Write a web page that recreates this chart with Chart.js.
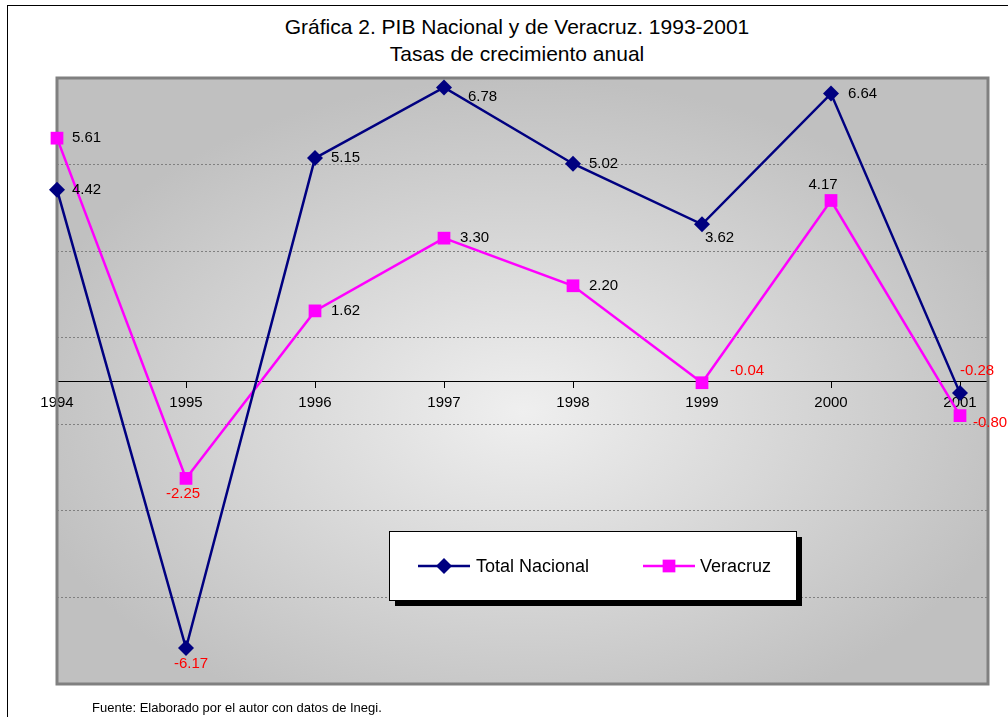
<!DOCTYPE html>
<html>
<head>
<meta charset="utf-8">
<script src="https://cdn.jsdelivr.net/npm/chart.js@4.4.0/dist/chart.umd.min.js"></script>
<style>
html, body { margin: 0; padding: 0; background: #fff; overflow: hidden; }
#wrap { position: relative; width: 1008px; height: 717px; }
#frame { position: absolute; left: 7px; top: 5px; width: 1030px; height: 740px; border: 1px solid #000; }
#title { position: absolute; left: 0; top: 13px; width: 1034px; text-align: center; font: 21px "Liberation Sans", Arial, sans-serif; line-height: 27px; color: #000; }
#source { position: absolute; left: 92px; top: 700px; font: 13px "Liberation Sans", Arial, sans-serif; color: #000; }
#chart { position: absolute; left: 0; top: 0; }
</style>
</head>
<body>
<div id="wrap">
  <div id="frame"></div>
  <div id="title">Gráfica 2. PIB Nacional y de Veracruz. 1993-2001<br>Tasas de crecimiento anual</div>
  <canvas id="chart" width="1008" height="717"></canvas>
  <div id="source">Fuente: Elaborado por el autor con datos de Inegi.</div>
</div>
<script>
const FONT = '"Liberation Sans", Arial, sans-serif';

// Data
const years = [1994, 1995, 1996, 1997, 1998, 1999, 2000, 2001];
const totalNacional = [4.42, -6.17, 5.15, 6.78, 5.02, 3.62, 6.64, -0.28];
const veracruz = [5.61, -2.25, 1.62, 3.30, 2.20, -0.04, 4.17, -0.80];
const yMin = -7;
const yMax = 7;
const yStep = 2;

// Where each value label sits relative to its point: [dx, dy, align]
const totalLabelPos = [[15, 0, 'left'], [5, 16, 'center'], [16, 0, 'left'], [24, 9, 'left'],
    [16, 0, 'left'], [3, 14, 'left'], [17, 0, 'left'], [0, -22, 'left']];
const veracruzLabelPos = [[15, 0, 'left'], [-3, 15, 'center'], [16, 0, 'left'], [16, 0, 'left'],
    [16, 0, 'left'], [28, -12, 'left'], [-8, -16, 'center'], [13, 7, 'left']];

const toPoints = values => years.map((year, i) => ({ x: year, y: values[i] }));

// Gray gradient behind the plot and its border
const plotBackground = {
    id: 'plotBackground',
    beforeDraw(chart) {
        const { ctx, chartArea: a } = chart;
        const w = a.right - a.left;
        const h = a.bottom - a.top;
        const cx = a.left + w * 0.5;
        const cy = a.top + h * 0.55;
        const rx = w * 0.55;
        const ry = h * 0.55;
        ctx.save();
        ctx.fillStyle = '#c0c0c0';
        ctx.fillRect(a.left, a.top, w, h);
        ctx.beginPath();
        ctx.rect(a.left, a.top, w, h);
        ctx.clip();
        ctx.translate(cx, cy);
        ctx.scale(1, ry / rx);
        const g = ctx.createRadialGradient(0, 0, 0, 0, 0, rx);
        g.addColorStop(0, '#efefef');
        g.addColorStop(1, '#c0c0c0');
        ctx.fillStyle = g;
        ctx.fillRect(-rx, -rx, 2 * rx, 2 * rx);
        ctx.restore();
    },
    beforeDatasetsDraw(chart) {
        const { ctx, chartArea: a } = chart;
        ctx.save();
        ctx.strokeStyle = '#808080';
        ctx.lineWidth = 3;
        ctx.strokeRect(a.left, a.top, a.right - a.left, a.bottom - a.top);
        ctx.restore();
    }
};

// Value labels next to each point, negatives in red
const valueLabels = {
    id: 'valueLabels',
    afterDatasetsDraw(chart) {
        const { ctx } = chart;
        const positions = [totalLabelPos, veracruzLabelPos];
        ctx.save();
        ctx.font = '15px ' + FONT;
        ctx.textBaseline = 'middle';
        chart.data.datasets.forEach((ds, di) => {
            const meta = chart.getDatasetMeta(di);
            meta.data.forEach((pt, i) => {
                const v = ds.data[i].y;
                const [dx, dy, align] = positions[di][i];
                ctx.fillStyle = v < 0 ? '#ff0000' : '#000000';
                ctx.textAlign = align;
                ctx.fillText(v.toFixed(2), pt.x + dx, pt.y + dy);
            });
        });
        ctx.restore();
    }
};

function drawMarker(ctx, style, x, y, r) {
    ctx.beginPath();
    if (style === 'rectRot') {
        ctx.moveTo(x - r, y);
        ctx.lineTo(x, y - r);
        ctx.lineTo(x + r, y);
        ctx.lineTo(x, y + r);
        ctx.closePath();
    } else {
        const s = r * Math.SQRT1_2;
        ctx.rect(x - s, y - s, 2 * s, 2 * s);
    }
    ctx.fill();
}

// Boxed legend with drop shadow inside the plot
const boxLegend = {
    id: 'boxLegend',
    afterDraw(chart) {
        const { ctx } = chart;
        const box = { x: 389, y: 531, w: 407, h: 69 };
        const items = [{ x0: 418, x1: 470, tx: 476 }, { x0: 643, x1: 695, tx: 700 }];
        const cy = box.y + 35;
        ctx.save();
        ctx.fillStyle = '#000';
        ctx.fillRect(box.x + 6, box.y + 6, box.w, box.h);
        ctx.fillStyle = '#fff';
        ctx.fillRect(box.x, box.y, box.w, box.h);
        ctx.strokeStyle = '#000';
        ctx.lineWidth = 1;
        ctx.strokeRect(box.x + 0.5, box.y + 0.5, box.w, box.h);
        chart.data.datasets.forEach((ds, i) => {
            const it = items[i];
            ctx.strokeStyle = ds.borderColor;
            ctx.lineWidth = ds.borderWidth;
            ctx.beginPath();
            ctx.moveTo(it.x0, cy);
            ctx.lineTo(it.x1, cy);
            ctx.stroke();
            ctx.fillStyle = ds.backgroundColor;
            drawMarker(ctx, ds.pointStyle, (it.x0 + it.x1) / 2, cy, ds.pointRadius);
            ctx.fillStyle = '#000';
            ctx.font = '18px ' + FONT;
            ctx.textAlign = 'left';
            ctx.textBaseline = 'middle';
            ctx.fillText(ds.label, it.tx, cy + 1);
        });
        ctx.restore();
    }
};

const chart = new Chart(document.getElementById('chart').getContext('2d'), {
    type: 'line',
    data: {
        datasets: [
            {
                label: 'Total Nacional',
                data: toPoints(totalNacional),
                borderColor: '#000080',
                backgroundColor: '#000080',
                borderWidth: 2.5,
                pointStyle: 'rectRot',
                pointRadius: 8,
                pointHoverRadius: 8,
                pointBorderWidth: 0,
                tension: 0,
                clip: false,
            },
            {
                label: 'Veracruz',
                data: toPoints(veracruz),
                borderColor: '#ff00ff',
                backgroundColor: '#ff00ff',
                borderWidth: 2.5,
                pointStyle: 'rect',
                pointRadius: 9,
                pointHoverRadius: 9,
                pointBorderWidth: 0,
                tension: 0,
                clip: false,
            },
        ],
    },
    options: {
        responsive: false,
        animation: false,
        devicePixelRatio: 1,
        events: [],
        layout: { padding: { left: 57, right: 20, top: 78, bottom: 33 } },
        plugins: {
            legend: { display: false },
            tooltip: { enabled: false },
        },
        scales: {
            x: {
                type: 'linear',
                min: years[0],
                max: years[years.length - 1] + 0.217,
                position: { y: 0 },
                afterFit: scale => { scale.height = 0; },
                afterBuildTicks: scale => { scale.ticks = years.map(v => ({ value: v })); },
                ticks: {
                    callback: v => String(v),
                    color: '#000',
                    font: { family: FONT, size: 15 },
                    padding: 7,
                    maxRotation: 0,
                    autoSkip: false,
                },
                grid: { drawOnChartArea: false, drawTicks: true, tickLength: 6, color: '#000' },
                border: { display: true, color: '#000', width: 1 },
            },
            y: {
                min: yMin,
                max: yMax,
                afterFit: scale => { scale.width = 0; },
                ticks: { stepSize: yStep, display: false },
                grid: { color: '#808080', lineWidth: 1, drawTicks: false },
                border: { display: false, dash: [2, 2] },
            },
        },
    },
    plugins: [plotBackground, valueLabels, boxLegend],
});
</script>
</body>
</html>
